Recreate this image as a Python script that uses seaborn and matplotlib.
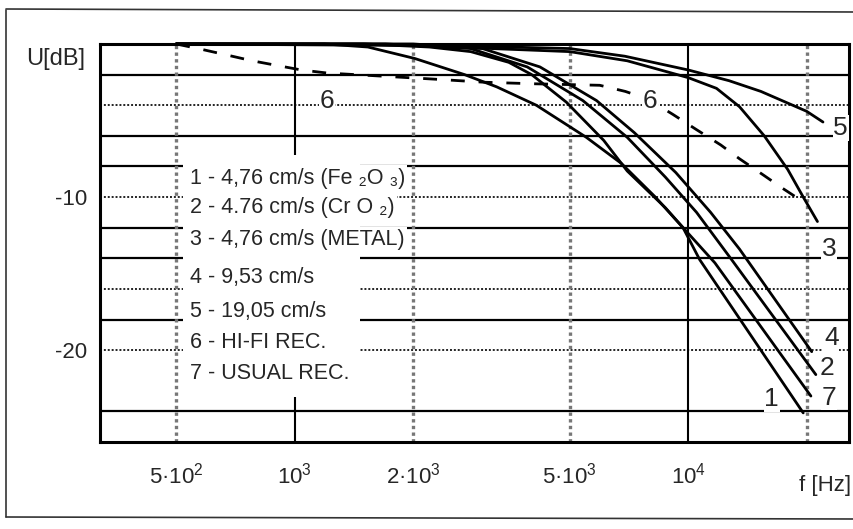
import numpy as np
import pandas as pd
import matplotlib
matplotlib.use("Agg")
import matplotlib.pyplot as plt
import seaborn as sns
from matplotlib.lines import Line2D
from matplotlib.patches import Rectangle

# --- data (f in Hz, level in dB) ---
c1_f = [500, 1500, 2200, 2800, 3500, 4000, 4900, 6100, 7000, 8750, 9700, 10700, 19600]
c1_db = [0, 0, -0.2, -0.5, -1.2, -2.0, -3.8, -6.3, -8.3, -10.7, -12.0, -14.1, -24.1]

c2_f = [500, 1700, 2800, 3900, 5400, 7000, 8750, 10500, 12900, 21100]
c2_db = [0, 0, -0.3, -1.5, -3.7, -6.1, -8.7, -11.0, -14.1, -21.6]

c3_f = [500, 2000, 5000, 7000, 10000, 11800, 13500, 15600, 17900, 19600, 21300]
c3_db = [0, -0.1, -0.5, -1.1, -2.2, -2.9, -4.1, -6.0, -8.2, -10.0, -11.6]

c4_f = [500, 2000, 3000, 4200, 5850, 7300, 9300, 11400, 13500, 20600]
c4_db = [0, 0, -0.3, -1.5, -3.7, -5.8, -8.4, -11.0, -13.4, -20.1]

c5_f = [500, 2000, 5000, 6900, 10000, 12700, 15300, 20000, 22000]
c5_db = [0, -0.05, -0.3, -0.8, -1.7, -2.4, -3.1, -4.4, -5.1]

c6_f = [500, 580, 680, 780, 900, 1040, 1210, 1420, 2270, 3030, 4040, 5960, 6920,
        7900, 9140, 10500, 12100, 13500, 15600, 17300, 19300]
c6_db = [0, -0.35, -0.75, -1.1, -1.4, -1.7, -1.9, -2.0, -2.3, -2.5, -2.6, -2.7, -3.1,
         -3.6, -4.6, -5.6, -6.6, -7.5, -8.6, -9.4, -10.2]

c7_f = [500, 1190, 1535, 2020, 2700, 3260, 4110, 5510, 6760, 8250, 9470, 11690, 20500]
c7_db = [0, 0, -0.2, -0.95, -2.0, -2.8, -4.0, -6.1, -7.8, -10.0, -11.7, -14.3, -23.0]

legend_lines = [
    "1 - 4,76 cm/s (Fe \u2082O \u2083)",
    "2 - 4.76 cm/s (Cr O \u2082)",
    "3 - 4,76 cm/s (METAL)",
    "4 - 9,53 cm/s",
    "5 - 19,05 cm/s",
    "6 - HI-FI REC.",
    "7 - USUAL REC.",
]

curve_labels = ["6", "6", "5", "3", "4", "2", "7", "1"]
label_f = [1207, 8000, 24400, 22800, 23100, 22500, 22800, 16300]
label_db = [-3.7, -3.7, -5.5, -13.4, -19.2, -21.2, -23.1, -23.2]

xtick_vals = [500, 1000, 2000, 5000, 10000]
xtick_text = ["5\u00b7$10^2$", "$10^3$", "2\u00b7$10^3$", "5\u00b7$10^3$", "$10^4$"]
ytick_vals = [-10, -20]
ytick_text = ["-10", "-20"]

grid_solid_db = [-2, -6, -8, -12, -14, -18, -24]
grid_dotted_db = [-4, -10, -16, -20]
grid_black_f = [1000, 10000]
grid_gray_f = [500, 2000, 5000, 20000]

# --- style ---
sns.set_style("white")
plt.rcParams["font.family"] = ["Liberation Sans", "DejaVu Sans"]
plt.rcParams["mathtext.fontset"] = "custom"
plt.rcParams["mathtext.rm"] = "Liberation Sans"
plt.rcParams["mathtext.it"] = "Liberation Sans"
plt.rcParams["mathtext.default"] = "rm"

fig = plt.figure(figsize=(8.54, 5.29), dpi=100)
ax = fig.add_axes([0.117, 0.1645, 0.877, 0.7524])
ax.set_xscale("log")
ax.set_xlim(320, 25600)
ax.set_ylim(-26, 0)

# grid
for d in grid_solid_db:
    ax.axhline(d, color="black", lw=1.6, zorder=1)
for d in grid_dotted_db:
    ax.axhline(d, color="#222222", lw=1.4, ls=(0, (1, 1)), zorder=1)
for f in grid_black_f:
    ax.axvline(f, color="black", lw=1.5, zorder=1)
for f in grid_gray_f:
    ax.axvline(f, color="#777777", lw=2.4, ls=(0, (1, 1)), zorder=1)

# white area behind the legend text
ax.add_patch(Rectangle((0.111, 0.113), 0.236, 0.608, transform=ax.transAxes,
                       facecolor="white", edgecolor="none", zorder=2))

# curves
solid = [(c1_f, c1_db), (c2_f, c2_db), (c3_f, c3_db), (c4_f, c4_db),
         (c5_f, c5_db), (c7_f, c7_db)]
for f, d in solid:
    df = pd.DataFrame({"f": f, "db": d})
    sns.lineplot(data=df, x="f", y="db", ax=ax, color="black", lw=2.0,
                 sort=False, zorder=4, clip_on=False)
df6 = pd.DataFrame({"f": c6_f, "db": c6_db})
sns.lineplot(data=df6, x="f", y="db", ax=ax, color="black", lw=2.0,
             linestyle=(0, (5, 5)), sort=False, zorder=4, clip_on=False)

# curve numbers
for t, f, d in zip(curve_labels, label_f, label_db):
    ax.text(f, d, t, fontsize=19, ha="center", va="center", zorder=6,
            bbox=dict(facecolor="white", edgecolor="none", pad=0.5))

# legend text
leg_y = [0.663, 0.590, 0.508, 0.412, 0.327, 0.249, 0.171]
for t, y in zip(legend_lines, leg_y):
    ax.text(0.12, y, t, transform=ax.transAxes, fontsize=15.5, ha="left",
            va="center", zorder=5,
            bbox=dict(facecolor="white", edgecolor="none", pad=1.5))

# axes / ticks
for s in ax.spines.values():
    s.set_color("black")
    s.set_linewidth(2.2)
ax.set_xticks(xtick_vals)
ax.set_xticklabels(xtick_text, fontsize=16)
ax.xaxis.set_minor_locator(matplotlib.ticker.NullLocator())
ax.set_yticks(ytick_vals)
ax.set_yticklabels(ytick_text, fontsize=16)
ax.tick_params(axis="x", length=0, pad=15)
ax.tick_params(axis="y", length=0, pad=9)
ax.set_xlabel("")
ax.set_ylabel("")

ax.text(-0.059, 0.962, "U[dB]", transform=ax.transAxes, fontsize=17,
        ha="center", va="center")
fig.text(0.997, 1 - 485 / 529, "f [Hz]", fontsize=16, ha="right", va="center")

# scanned page frame
fig.add_artist(Line2D([6.5 / 854, 6.5 / 854], [1 - 10 / 529, 1 - 517 / 529],
                      transform=fig.transFigure, color="#333333", lw=1.2))
fig.add_artist(Line2D([6 / 854, 1.0], [1 - 517 / 529, 1 - 519 / 529],
                      transform=fig.transFigure, color="#333333", lw=1.2))
fig.add_artist(Line2D([6 / 854, 1.0], [1 - 9 / 529, 1 - 12 / 529],
                      transform=fig.transFigure, color="#333333", lw=1.2))

fig.savefig("out.png", dpi=100)
